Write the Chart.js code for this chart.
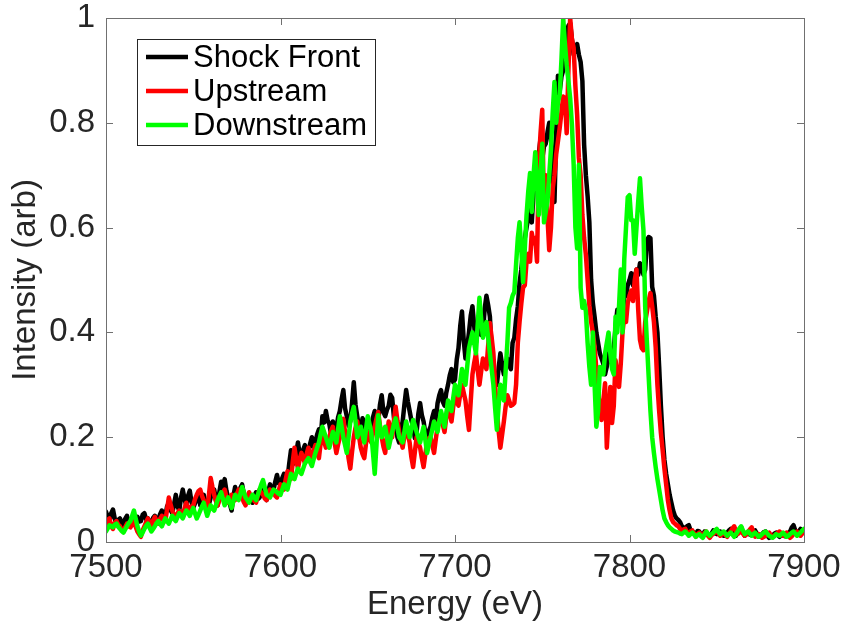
<!DOCTYPE html>
<html>
<head>
<meta charset="utf-8">
<title>XES spectra</title>
<script src="https://cdn.jsdelivr.net/npm/chart.js@4.4.1/dist/chart.umd.min.js"></script>
<style>
  html, body { margin: 0; padding: 0; background: #fff; }
  #myChart { display: block; }
</style>
</head>
<body>
<canvas id="myChart" width="845" height="630"></canvas>
<script>
// energy grid, 7500 .. 7900 eV in 1 eV steps
const energy = [];
for (let e = 7500; e <= 7900; e++) energy.push(e);

// one row = 10 eV
const shockFront = [
  .058, .048, .040, .055, .062, .045, .035, .042, .045, .038,
  .030, .044, .050, .036, .040, .047, .033, .041, .048, .039,
  .040, .052, .055, .043, .045, .038, .035, .046, .050, .041,
  .042, .053, .060, .047, .050, .068, .075, .061, .055, .072,
  .090, .068, .060, .085, .100, .082, .070, .088, .098, .076,
  .065, .074, .080, .095, .070, .078, .090, .076, .065, .072,
  .085, .093, .100, .080, .070, .096, .115, .104, .120, .098,
  .085, .072, .060, .088, .105, .092, .095, .103, .110, .092,
  .080, .086, .090, .079, .075, .088, .095, .082, .085, .093,
  .100, .087, .080, .097, .110, .094, .100, .115, .128, .112,
  .110, .122, .130, .115, .120, .150, .175, .148, .155, .170,
  .190, .168, .160, .176, .185, .162, .170, .188, .200, .182,
  .190, .205, .215, .198, .240, .228, .250, .232, .225, .205,
  .230, .212, .215, .238, .250, .272, .290, .255, .240, .222,
  .230, .265, .305, .262, .240, .218, .210, .236, .230, .205,
  .200, .215, .220, .238, .250, .226, .230, .262, .280, .248,
  .240, .252, .260, .281, .275, .238, .220, .200, .190, .214,
  .230, .262, .290, .268, .250, .232, .220, .198, .210, .245,
  .265, .242, .230, .208, .200, .212, .220, .238, .250, .232,
  .265, .280, .290, .268, .260, .285, .300, .318, .330, .305,
  .310, .348, .370, .412, .440, .385, .350, .372, .400, .432,
  .450, .412, .380, .405, .420, .395, .400, .445, .470, .452,
  .430, .365, .330, .305, .300, .332, .360, .338, .320, .342,
  .350, .338, .330, .380, .390, .425, .450, .495, .520, .555,
  .580, .600, .620, .635, .610, .665, .700, .720, .740, .770,
  .730, .755, .760, .782, .800, .772, .700, .649, .780, .890,
  .860, .888, .900, .935, .970, .985, .990, .960, .930, .942,
  .950, .930, .916, .880, .758, .700, .660, .610, .500, .456,
  .430, .400, .380, .360, .350, .340, .320, .335, .360, .350,
  .340, .370, .410, .443, .440, .452, .430, .468, .470, .490,
  .500, .513, .490, .505, .520, .510, .532, .525, .510, .520,
  .576, .582, .580, .487, .470, .430, .400, .334, .260, .200,
  .157, .130, .110, .090, .075, .060, .050, .045, .042, .038,
  .030, .028, .025, .030, .032, .022, .020, .018, .015, .021,
  .020, .014, .012, .020, .018, .013, .010, .016, .022, .017,
  .015, .019, .020, .014, .012, .016, .018, .022, .025, .018,
  .015, .012, .020, .024, .028, .018, .012, .016, .020, .014,
  .015, .020, .022, .016, .010, .013, .015, .019, .020, .012,
  .008, .010, .012, .016, .018, .013, .010, .014, .015, .011,
  .012, .017, .020, .028, .032, .022, .015, .020, .025, .018,
  .020
];

const upstream = [
  .035, .042, .045, .030, .025, .036, .040, .033, .030, .024,
  .020, .028, .035, .030, .028, .034, .040, .029, .020, .015,
  .010, .022, .030, .038, .045, .036, .030, .041, .048, .040,
  .035, .044, .050, .043, .040, .062, .085, .072, .060, .050,
  .045, .055, .060, .052, .050, .064, .075, .066, .060, .068,
  .070, .082, .090, .097, .100, .088, .080, .070, .060, .090,
  .122, .105, .090, .078, .070, .080, .085, .095, .100, .086,
  .075, .084, .090, .083, .080, .092, .100, .090, .085, .076,
  .070, .085, .095, .088, .085, .078, .075, .089, .100, .094,
  .090, .083, .080, .092, .100, .096, .095, .088, .085, .098,
  .110, .104, .100, .120, .135, .126, .120, .152, .180, .158,
  .140, .158, .170, .160, .150, .168, .180, .170, .160, .173,
  .185, .170, .160, .188, .210, .192, .180, .195, .200, .212,
  .220, .190, .170, .186, .200, .222, .235, .210, .190, .160,
  .140, .172, .200, .218, .230, .202, .180, .168, .160, .188,
  .210, .198, .190, .208, .220, .235, .248, .222, .200, .182,
  .170, .202, .230, .214, .200, .232, .258, .232, .210, .194,
  .180, .202, .220, .205, .190, .162, .143, .172, .200, .190,
  .180, .160, .143, .168, .190, .198, .200, .185, .170, .196,
  .220, .232, .240, .224, .210, .238, .260, .245, .230, .258,
  .280, .268, .260, .282, .300, .285, .270, .240, .214, .268,
  .320, .342, .360, .328, .300, .326, .350, .342, .330, .375,
  .418, .390, .360, .300, .250, .212, .180, .205, .230, .258,
  .280, .270, .260, .262, .265, .300, .380, .420, .455, .485,
  .490, .535, .550, .535, .590, .570, .580, .535, .720, .780,
  .825, .624, .700, .620, .557, .600, .675, .700, .740, .765,
  .790, .820, .850, .847, .780, .900, 1.00, .960, .943, .870,
  .815, .733, .700, .624, .580, .548, .500, .452, .420, .400,
  .372, .330, .284, .260, .233, .270, .303, .180, .240, .296,
  .227, .260, .347, .320, .296, .340, .400, .430, .420, .456,
  .470, .480, .460, .500, .520, .443, .386, .370, .366, .420,
  .440, .460, .475, .450, .420, .372, .300, .250, .208, .175,
  .140, .110, .080, .060, .045, .038, .035, .032, .030, .025,
  .020, .024, .025, .018, .015, .020, .022, .016, .010, .015,
  .018, .014, .012, .017, .020, .012, .008, .013, .015, .019,
  .022, .016, .012, .015, .018, .013, .010, .016, .020, .026,
  .030, .021, .015, .018, .020, .016, .012, .014, .018, .024,
  .028, .018, .010, .013, .015, .011, .008, .010, .012, .016,
  .018, .013, .010, .012, .015, .018, .020, .016, .012, .014,
  .018, .012, .008, .011, .015, .017, .020, .015, .012, .016,
  .018
];

const downstream = [
  .020, .026, .032, .030, .028, .033, .035, .029, .025, .021,
  .018, .024, .030, .036, .040, .050, .060, .045, .030, .020,
  .012, .018, .025, .031, .035, .027, .020, .025, .030, .036,
  .040, .034, .030, .038, .045, .040, .035, .043, .050, .044,
  .040, .048, .055, .050, .045, .053, .060, .056, .050, .058,
  .065, .055, .045, .052, .060, .068, .075, .062, .050, .060,
  .070, .064, .060, .070, .080, .088, .095, .082, .070, .078,
  .085, .075, .065, .078, .090, .085, .080, .092, .105, .095,
  .085, .080, .075, .083, .090, .085, .080, .090, .100, .110,
  .118, .104, .090, .088, .085, .093, .100, .098, .095, .092,
  .090, .100, .110, .105, .100, .115, .130, .125, .120, .131,
  .140, .135, .130, .140, .150, .155, .160, .152, .145, .158,
  .170, .180, .190, .205, .220, .210, .200, .190, .180, .195,
  .210, .200, .190, .215, .240, .220, .200, .185, .170, .200,
  .230, .245, .258, .230, .200, .210, .220, .205, .190, .215,
  .240, .225, .210, .170, .130, .185, .242, .220, .200, .210,
  .220, .200, .180, .195, .210, .225, .236, .218, .200, .195,
  .190, .210, .230, .215, .200, .216, .233, .222, .210, .200,
  .190, .205, .220, .195, .170, .185, .200, .215, .230, .220,
  .210, .230, .250, .235, .220, .245, .270, .260, .250, .275,
  .300, .290, .280, .305, .330, .315, .300, .335, .370, .385,
  .400, .380, .360, .415, .466, .425, .390, .405, .420, .390,
  .360, .330, .300, .255, .214, .260, .300, .285, .270, .325,
  .380, .447, .456, .470, .477, .530, .580, .610, .560, .496,
  .560, .624, .670, .704, .630, .700, .744, .680, .624, .700,
  .760, .610, .630, .650, .700, .750, .820, .878, .800, .840,
  .853, .920, 1.00, .950, .910, .880, .847, .796, .720, .600,
  .560, .720, .485, .447, .460, .440, .380, .334, .300, .400,
  .300, .220, .250, .334, .320, .320, .360, .380, .400, .360,
  .330, .320, .430, .400, .450, .520, .400, .540, .600, .658,
  .662, .614, .614, .550, .600, .650, .694, .640, .595, .448,
  .380, .315, .250, .200, .170, .143, .120, .100, .080, .060,
  .045, .038, .032, .028, .025, .022, .020, .019, .018, .016,
  .015, .018, .020, .016, .012, .015, .018, .014, .010, .013,
  .015, .011, .008, .014, .020, .016, .012, .015, .018, .022,
  .025, .019, .015, .018, .020, .016, .012, .015, .018, .014,
  .010, .015, .020, .026, .030, .022, .015, .018, .020, .016,
  .012, .015, .018, .014, .010, .012, .015, .018, .020, .016,
  .012, .010, .008, .011, .015, .013, .012, .015, .018, .014,
  .010, .012, .015, .018, .020, .016, .012, .015, .018, .022,
  .025
];

const seriesNames = ['Shock Front', 'Upstream', 'Downstream'];
const seriesColors = ['#000000', '#ff0000', '#00ff00'];
const xTicks = [7500, 7600, 7700, 7800, 7900];
const yTicks = [0, 0.2, 0.4, 0.6, 0.8, 1];

const axisColor = '#707070';
const textColor = '#262626';
const fontFamily = '"Liberation Sans", Arial, Helvetica, sans-serif';

function pts(vals) {
  return vals.map((v, i) => ({ x: energy[i], y: v }));
}

// inward tick marks on all four sides plus the box outline
const boxAxes = {
  id: 'boxAxes',
  afterDatasetsDraw(chart) {
    const { ctx, chartArea: a, scales: { x, y } } = chart;
    const L = 7;
    ctx.save();
    ctx.strokeStyle = axisColor;
    ctx.lineWidth = 1;
    ctx.beginPath();
    xTicks.forEach(v => {
      const px = Math.round(x.getPixelForValue(v)) + 0.5;
      ctx.moveTo(px, a.bottom); ctx.lineTo(px, a.bottom - L);
      ctx.moveTo(px, a.top); ctx.lineTo(px, a.top + L);
    });
    yTicks.forEach(v => {
      const py = Math.round(y.getPixelForValue(v)) + 0.5;
      ctx.moveTo(a.left, py); ctx.lineTo(a.left + L, py);
      ctx.moveTo(a.right, py); ctx.lineTo(a.right - L, py);
    });
    ctx.stroke();
    ctx.strokeRect(Math.round(a.left) + 0.5, Math.round(a.top) + 0.5,
                   Math.round(a.right - a.left), Math.round(a.bottom - a.top));
    ctx.restore();
  }
};

// legend box in the upper left of the plot
const boxLegend = {
  id: 'boxLegend',
  afterDraw(chart) {
    const ctx = chart.ctx;
    const bx = 137, by = 39, bw = 238, bh = 106;
    ctx.save();
    ctx.fillStyle = '#ffffff';
    ctx.fillRect(bx, by, bw, bh);
    ctx.strokeStyle = '#262626';
    ctx.lineWidth = 1;
    ctx.strokeRect(bx + 0.5, by + 0.5, bw, bh);
    ctx.font = '31px ' + fontFamily;
    ctx.textBaseline = 'middle';
    ctx.textAlign = 'left';
    chart.data.datasets.forEach((ds, i) => {
      const ry = 57 + i * 34;
      ctx.strokeStyle = ds.borderColor;
      ctx.lineWidth = 4.5;
      ctx.beginPath();
      ctx.moveTo(146, ry); ctx.lineTo(188, ry);
      ctx.stroke();
      ctx.fillStyle = '#000000';
      ctx.fillText(ds.label, 193, ry + 1);
    });
    ctx.restore();
  }
};

const data = {
  datasets: [shockFront, upstream, downstream].map((vals, i) => ({
    label: seriesNames[i],
    data: pts(vals),
    borderColor: seriesColors[i],
    backgroundColor: seriesColors[i],
    borderWidth: 4.5,
    borderJoinStyle: 'round',
    borderCapStyle: 'round',
    pointRadius: 0,
    tension: 0,
    fill: false,
    order: 3 - i
  }))
};

const config = {
  type: 'line',
  data: data,
  options: {
    responsive: false,
    animation: false,
    devicePixelRatio: 1,
    layout: { padding: { top: 18, right: 41, left: 0, bottom: 0 } },
    plugins: {
      legend: { display: false },
      tooltip: { enabled: false }
    },
    scales: {
      x: {
        type: 'linear',
        min: 7500,
        max: 7900,
        afterBuildTicks: s => { s.ticks = xTicks.map(v => ({ value: v })); },
        afterFit: s => {
          s.height = 88;
          s.paddingLeft = 0; s.paddingRight = 0;
        },
        grid: { display: false, drawTicks: false },
        border: { display: false },
        ticks: {
          padding: 6,
          maxRotation: 0,
          color: textColor,
          font: { family: fontFamily, size: 33 },
          callback: v => String(v)
        },
        title: {
          display: true,
          text: 'Energy (eV)',
          color: textColor,
          padding: { top: 0, bottom: 5 },
          font: { family: fontFamily, size: 33 }
        }
      },
      y: {
        type: 'linear',
        min: 0,
        max: 1,
        afterBuildTicks: s => { s.ticks = yTicks.map(v => ({ value: v })); },
        afterFit: s => {
          s.width = 106;
          s.paddingTop = 0; s.paddingBottom = 0;
        },
        grid: { display: false, drawTicks: false },
        border: { display: false },
        ticks: {
          padding: 11,
          color: textColor,
          font: { family: fontFamily, size: 33 },
          callback: v => String(v)
        },
        title: {
          display: true,
          text: 'Intensity (arb)',
          color: textColor,
          padding: { top: 6, bottom: 0 },
          font: { family: fontFamily, size: 33 }
        }
      }
    }
  },
  plugins: [boxAxes, boxLegend]
};

const myChart = new Chart(document.getElementById('myChart'), config);
</script>
</body>
</html>
